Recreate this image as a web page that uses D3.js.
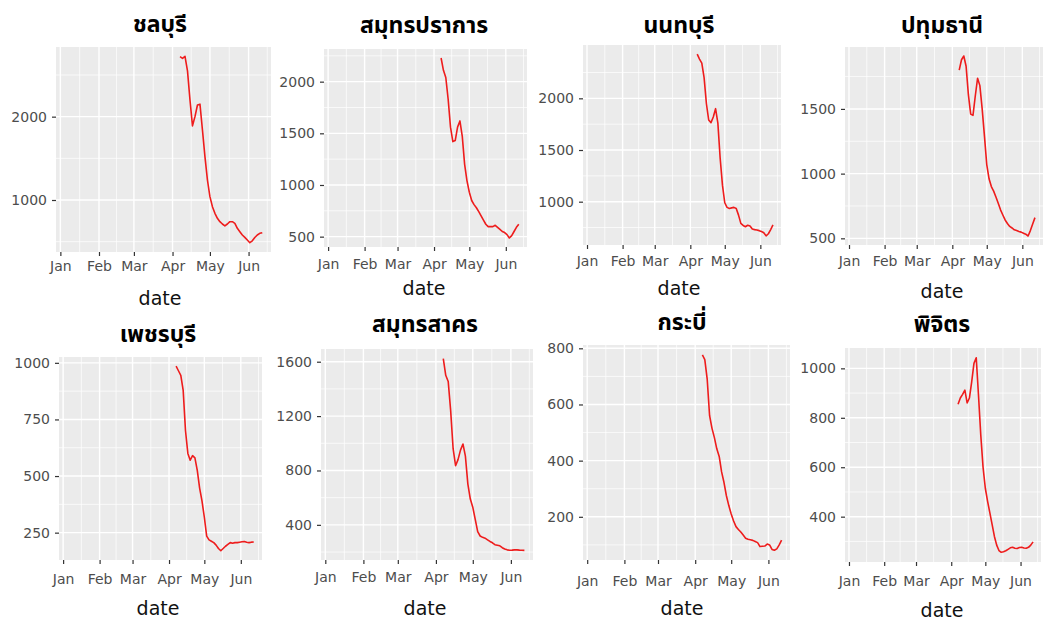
<!DOCTYPE html>
<html>
<head>
<meta charset="utf-8">
<script src="https://cdn.jsdelivr.net/npm/d3@7"></script>
<style>
    body { margin: 0; background: #fff; }
    svg { display: block; }
</style>
</head>
<body>
<script>
    'use strict';

    let provinces = ["ชลบุรี", "สมุทรปราการ", "นนทบุรี", "ปทุมธานี",
        "เพชรบุรี", "สมุทรสาคร", "กระบี่", "พิจิตร"];

    let monthLabels = ["Jan", "Feb", "Mar", "Apr", "May", "Jun"];

    // every second day, 7 Apr - 12 Jun 2021
    let dates = [
        "2021-04-07", "2021-04-09", "2021-04-11", "2021-04-13", "2021-04-15", "2021-04-17",
        "2021-04-19", "2021-04-21", "2021-04-23", "2021-04-25", "2021-04-27", "2021-04-29",
        "2021-05-01", "2021-05-03", "2021-05-05", "2021-05-07", "2021-05-09", "2021-05-11",
        "2021-05-13", "2021-05-15", "2021-05-17", "2021-05-19", "2021-05-21", "2021-05-23",
        "2021-05-25", "2021-05-27", "2021-05-29", "2021-05-31", "2021-06-02", "2021-06-04",
        "2021-06-06", "2021-06-08", "2021-06-10", "2021-06-12"
    ];

    let chonburi = [2720, 2700, 2724, 2550, 2200, 1890, 2000, 2140, 2150, 1840, 1520, 1240,
        1040, 920, 840, 780, 740, 712, 690, 712, 740, 740, 720, 660, 620, 580, 552, 520, 488, 510,
        550, 580, 600, 608];
    let samutPrakan = [2229, 2110, 2040, 1830, 1560, 1420, 1430, 1560, 1620, 1470, 1200, 1040,
        930, 850, 810, 780, 742, 700, 660, 620, 597, 597, 597, 610, 590, 570, 550, 540, 520, 487,
        510, 550, 590, 620];
    let nonthaburi = [2428, 2380, 2340, 2200, 1950, 1790, 1765, 1820, 1900, 1760, 1420, 1160,
        990, 945, 935, 940, 945, 935, 870, 790, 770, 758, 772, 765, 735, 730, 726, 720, 712, 700,
        669, 690, 730, 775];
    let pathumThani = [1800, 1880, 1909, 1830, 1610, 1460, 1450, 1600, 1737, 1680, 1500, 1290,
        1070, 960, 900, 865, 820, 771, 720, 680, 642, 615, 592, 580, 566, 560, 553, 548, 540, 532,
        518, 560, 610, 660];
    let phetchaburi = [985, 965, 945, 880, 700, 600, 570, 590, 580, 525, 447, 390,
        318, 235, 218, 212, 206, 195, 180, 170, 180, 190, 198, 206, 203, 206, 206, 208, 210, 211,
        208, 206, 208, 209];
    let samutSakhon = [1623, 1500, 1455, 1240, 960, 835, 880, 950, 995, 905, 700, 590,
        530, 440, 350, 318, 308, 302, 290, 278, 268, 254, 250, 246, 232, 222, 216, 213, 214, 216,
        216, 214, 213, 212];
    let krabi = [777, 760, 690, 560, 515, 482, 442, 415, 360, 322, 275, 240,
        210, 185, 165, 155, 146, 135, 124, 120, 118, 116, 112, 108, 94, 95, 96, 103, 100, 84,
        81, 86, 100, 117];
    let phichit = [855, 880, 895, 912, 860, 880, 945, 1020, 1043, 890, 730, 600,
        515, 462, 415, 368, 320, 285, 263, 256, 258, 262, 268, 274, 276, 272, 271, 275, 276, 273,
        272, 276, 285, 298];

    let series = [chonburi, samutPrakan, nonthaburi, pathumThani,
        phetchaburi, samutSakhon, krabi, phichit];

    let yTicks = [
        [1000, 2000],
        [500, 1000, 1500, 2000],
        [1000, 1500, 2000],
        [500, 1000, 1500],
        [250, 500, 750, 1000],
        [400, 800, 1200, 1600],
        [200, 400, 600, 800],
        [400, 600, 800, 1000]
    ];

    // plot boxes of the eight panels (they were pasted together at slightly different sizes)
    let boxes = [
        {l: 56, t: 47, r: 271, b: 252, tx: 160, ty: 32, ly: 272, dy: 305},
        {l: 324, t: 49, r: 527, b: 247, tx: 424, ty: 33, ly: 270, dy: 295},
        {l: 583, t: 45, r: 781, b: 245, tx: 679, ty: 33, ly: 267, dy: 295},
        {l: 845, t: 47, r: 1043, b: 245, tx: 942, ty: 33, ly: 267, dy: 298},
        {l: 59, t: 357, r: 262, b: 560, tx: 158, ty: 342, ly: 585, dy: 615},
        {l: 321, t: 349, r: 533, b: 560, tx: 425, ty: 332, ly: 583, dy: 615},
        {l: 583, t: 345, r: 790, b: 560, tx: 682, ty: 330, ly: 587, dy: 615},
        {l: 845, t: 348, r: 1041, b: 562, tx: 942, ty: 332, ly: 587, dy: 617}
    ];

    let w = 1048;
    let h = 623;
    let parseDate = d3.utcParse("%Y-%m-%d");
    let xDates = dates.map(parseDate);

    let monthBreaks = d3.utcMonths(new Date(Date.UTC(2021, 0, 1)), new Date(Date.UTC(2021, 5, 2)));
    let allMonths = d3.utcMonths(new Date(Date.UTC(2020, 11, 1)), new Date(Date.UTC(2021, 6, 2)));
    let minorX = [];
    for (let i = 0; i < allMonths.length - 1; i++) {
        minorX.push(new Date((+allMonths[i] + +allMonths[i + 1]) / 2));
    }

    let svg = d3.select("body")
        .append("svg")
        .attr("width", w)
        .attr("height", h);

    for (let k = 0; k < series.length; k++) {
        let b = boxes[k];
        let values = series[k];

        let x = d3.scaleUtc()
            .domain([new Date(Date.UTC(2020, 11, 28, 12)), new Date(Date.UTC(2021, 5, 19))])
            .range([b.l, b.r]);

        // ggplot style: data range widened by 5% on each side
        let ext = d3.extent(values);
        let pad = (ext[1] - ext[0]) * 0.05;
        let y = d3.scaleLinear()
            .domain([ext[0] - pad, ext[1] + pad])
            .range([b.b, b.t]);

        let ticks = yTicks[k];
        let step = ticks[1] - ticks[0];
        let minorY = [];
        for (let v = ticks[0] - step / 2; v < ticks[ticks.length - 1] + step; v += step) {
            if (v > y.domain()[0] && v < y.domain()[1]) minorY.push(v);
        }

        let g = svg.append("g");

        g.append("rect")
            .attr("x", b.l)
            .attr("y", b.t)
            .attr("width", b.r - b.l)
            .attr("height", b.b - b.t)
            .attr("fill", "#ebebeb");

        g.selectAll(".minor-x")
            .data(minorX.filter(d => d > x.domain()[0] && d < x.domain()[1]))
            .enter()
            .append("line")
            .attr("x1", d => x(d)).attr("x2", d => x(d))
            .attr("y1", b.t).attr("y2", b.b)
            .attr("stroke", "#fff")
            .attr("stroke-width", 0.7);

        g.selectAll(".minor-y")
            .data(minorY)
            .enter()
            .append("line")
            .attr("x1", b.l).attr("x2", b.r)
            .attr("y1", d => y(d)).attr("y2", d => y(d))
            .attr("stroke", "#fff")
            .attr("stroke-width", 0.7);

        g.selectAll(".major-x")
            .data(monthBreaks)
            .enter()
            .append("line")
            .attr("x1", d => x(d)).attr("x2", d => x(d))
            .attr("y1", b.t).attr("y2", b.b)
            .attr("stroke", "#fff")
            .attr("stroke-width", 1.4);

        g.selectAll(".major-y")
            .data(ticks)
            .enter()
            .append("line")
            .attr("x1", b.l).attr("x2", b.r)
            .attr("y1", d => y(d)).attr("y2", d => y(d))
            .attr("stroke", "#fff")
            .attr("stroke-width", 1.4);

        let line = d3.line()
            .x((d, i) => x(xDates[i]))
            .y(d => y(d));

        g.append("path")
            .datum(values)
            .attr("d", line)
            .attr("fill", "none")
            .attr("stroke", "#ee1c1c")
            .attr("stroke-width", 1.6)
            .attr("stroke-linejoin", "round");

        // axes
        let xAxis = d3.axisBottom(x)
            .tickValues(monthBreaks)
            .tickFormat((d, i) => monthLabels[i])
            .tickSize(4)
            .tickSizeOuter(0)
            .tickPadding(b.ly - b.b - 15);
        let gx = g.append("g")
            .attr("transform", "translate(0," + b.b + ")")
            .call(xAxis);

        let yAxis = d3.axisLeft(y)
            .tickValues(ticks)
            .tickFormat(d3.format("d"))
            .tickSize(4)
            .tickSizeOuter(0)
            .tickPadding(5);
        let gy = g.append("g")
            .attr("transform", "translate(" + b.l + ",0)")
            .call(yAxis);

        [gx, gy].forEach(function (a) {
            a.select(".domain").remove();
            a.selectAll(".tick line").attr("stroke", "#333").attr("stroke-width", 1.2);
            a.selectAll(".tick text")
                .attr("fill", "#4d4d4d")
                .attr("font-family", "DejaVu Sans, sans-serif")
                .attr("font-size", "14px");
        });

        g.append("text")
            .attr("x", b.tx)
            .attr("y", b.ty)
            .attr("text-anchor", "middle")
            .attr("font-family", "Noto Sans Thai, Loma, Garuda, Noto Sans, DejaVu Sans, sans-serif")
            .attr("font-weight", "bold")
            .attr("font-size", "23px")
            .attr("fill", "#000")
            .text(provinces[k]);

        g.append("text")
            .attr("x", b.tx)
            .attr("y", b.dy)
            .attr("text-anchor", "middle")
            .attr("font-family", "DejaVu Sans, sans-serif")
            .attr("font-size", "19px")
            .attr("fill", "#111")
            .text("date");
    }
</script>
</body>
</html>
